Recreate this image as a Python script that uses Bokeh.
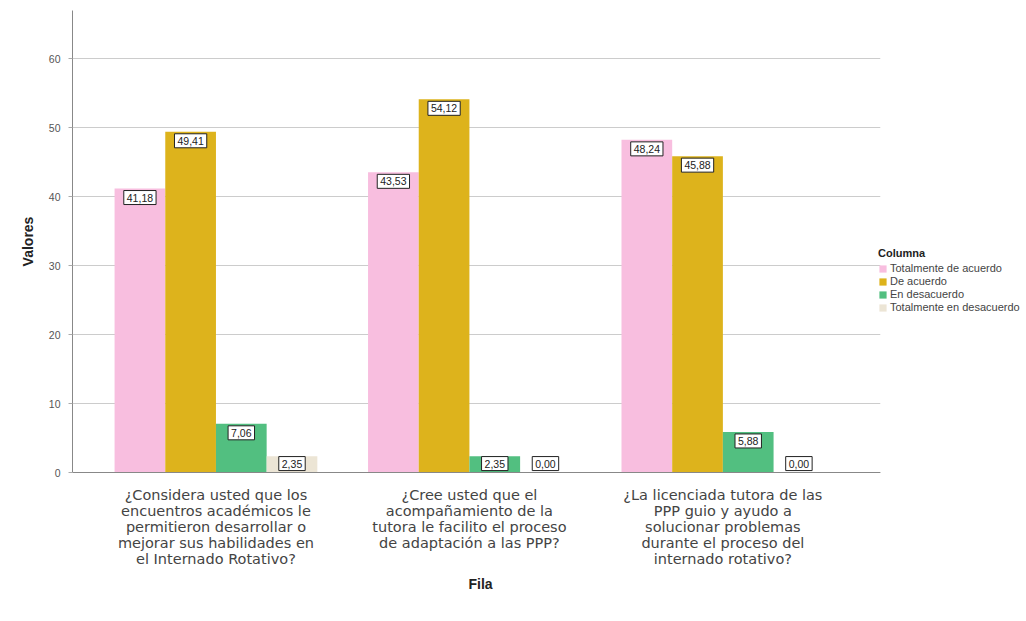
import numpy as np
from bokeh.plotting import figure
from bokeh.models import (ColumnDataSource, Range1d, FixedTicker, Legend, LegendItem,
                          BoxAnnotation, Title)
from bokeh.core.properties import value
from bokeh.embed import file_html
from bokeh.resources import INLINE

questions = [
    "¿Considera usted que los\nencuentros académicos le\npermitieron desarrollar o\nmejorar sus habilidades en\nel Internado Rotativo?",
    "¿Cree usted que el\nacompañamiento de la\ntutora le facilito el proceso\nde adaptación a las PPP?",
    "¿La licenciada tutora de las\nPPP guio y ayudo a\nsolucionar problemas\ndurante el proceso del\ninternado rotativo?",
]
series = ["Totalmente de acuerdo", "De acuerdo", "En desacuerdo", "Totalmente en desacuerdo"]
tot_acuerdo = [41.18, 43.53, 48.24]
de_acuerdo = [49.41, 54.12, 45.88]
en_desacuerdo = [7.06, 2.35, 5.88]
tot_desacuerdo = [2.35, 0.00, 0.00]
colors = ["#F8BEDF", "#DDB31C", "#52BF80", "#ECE5D5"]

values = [tot_acuerdo, de_acuerdo, en_desacuerdo, tot_desacuerdo]
group_x = np.arange(1, len(questions) + 1)
offsets = [-0.3, -0.1, 0.1, 0.3]
bar_w = 0.2

FONT = "Liberation Sans"

# plotting area ends at x=3.621; the extra room to the right holds the legend
X_START, X_END, X_VIEW_END = 0.434, 3.621, 4.19

p = figure(frame_width=952, frame_height=462, output_backend="svg", toolbar_location=None,
           x_range=Range1d(X_START, X_VIEW_END), y_range=Range1d(0, 67),
           min_border_left=72, min_border_right=0, min_border_top=10,
           min_border_bottom=100)
p.outline_line_color = None
p.background_fill_color = "white"

renderers = []
for s, vals, off, c in zip(series, values, offsets, colors):
    src = ColumnDataSource(dict(
        x=group_x + off,
        top=vals,
        ly=[max(v, 2.6) for v in vals],
        txt=[f"{v:.2f}".replace(".", ",") for v in vals],
    ))
    r = p.vbar(x="x", top="top", width=bar_w, source=src, fill_color=c, line_color=None)
    renderers.append(r)
    p.text(x="x", y="ly", text="txt", source=src, text_align="center",
           text_baseline="top", y_offset=2, text_font=value(FONT), text_font_size="10.5px",
           text_color="#222222", background_fill_color="white",
           border_line_color="#222222", border_line_width=1, padding=3)

# axes
p.xaxis.bounds = (X_START, X_END)
p.xaxis.ticker = FixedTicker(ticks=list(group_x))
p.xaxis.major_label_overrides = {int(g): q for g, q in zip(group_x, questions)}
p.xaxis.major_label_text_font = "DejaVu Sans"
p.xaxis.major_label_text_font_size = "14.5px"
p.xaxis.major_label_text_line_height = 1.0
p.xaxis.major_label_text_color = "#444444"
p.xaxis.major_label_standoff = 8
p.xaxis.major_tick_line_color = None
p.xaxis.minor_tick_line_color = None
p.xaxis.axis_line_color = "#888888"

p.add_layout(Title(text="Fila", align="left", offset=396, text_font=FONT,
                   text_font_style="bold", text_font_size="14px", text_color="#222222",
                   standoff=8), "below")

p.yaxis.ticker = FixedTicker(ticks=[0, 10, 20, 30, 40, 50, 60])
p.yaxis.major_label_text_font = FONT
p.yaxis.major_label_text_font_size = "10.5px"
p.yaxis.major_label_text_color = "#555555"
p.yaxis.major_tick_out = 4
p.yaxis.major_tick_in = 0
p.yaxis.major_tick_line_color = "#aaaaaa"
p.yaxis.minor_tick_line_color = None
p.yaxis.major_label_standoff = 8
p.yaxis.axis_line_color = "#888888"
p.yaxis.axis_label = "Valores"
p.yaxis.axis_label_text_font = FONT
p.yaxis.axis_label_text_font_style = "bold"
p.yaxis.axis_label_text_font_size = "14px"
p.yaxis.axis_label_text_color = "#222222"
p.yaxis.axis_label_standoff = 10

p.xgrid.grid_line_color = None
p.ygrid.grid_line_color = "#cccccc"
p.ygrid.grid_line_width = 1

# blank out the grid in the legend area
p.add_layout(BoxAnnotation(left=X_END, fill_color="white", fill_alpha=1.0, line_color=None))

legend = Legend(items=[LegendItem(label=s, renderers=[r]) for s, r in zip(series, renderers)],
                location=(806, 159), orientation="vertical",
                title="Columna", title_text_font=FONT, title_text_font_style="bold",
                title_text_font_size="11px", title_text_color="#222222", title_standoff=3,
                label_text_font=FONT, label_text_font_size="11px", label_text_color="#444444",
                glyph_width=9, glyph_height=9, label_height=9, label_standoff=3,
                spacing=1, padding=0, margin=0, border_line_color=None,
                background_fill_alpha=0)
p.add_layout(legend, "center")

open("out.html", "w").write(file_html(p, INLINE))
